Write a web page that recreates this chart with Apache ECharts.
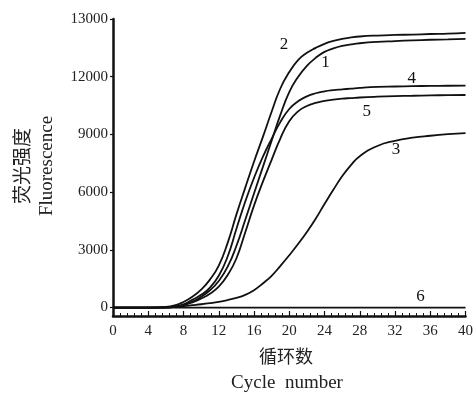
<!DOCTYPE html>
<html>
<head>
<meta charset="utf-8">
<script src="https://cdn.jsdelivr.net/npm/echarts@6/dist/echarts.min.js"></script>
<style>html,body{margin:0;padding:0;background:#fff;}#c{width:476px;height:394px;}</style>
</head>
<body>
<div id="c"></div>
<script>
// ---- data ----
var cycles = [0, 2, 4, 6, 7, 8, 9, 10, 11, 12, 13, 14, 15, 16, 17, 18, 19, 20, 21, 22, 23, 24, 25, 26, 27, 28, 30, 32, 34, 36, 38, 40];
var curve1 = [0, 0, 0, 10, 40, 130, 300, 560, 900, 1380, 2110, 3200, 4550, 5930, 7300, 8670, 10030, 11200, 11990, 12560, 12980, 13290, 13470, 13600, 13680, 13740, 13810, 13850, 13890, 13920, 13940, 13970];
var curve2 = [0, 0, 0, 30, 110, 290, 560, 930, 1450, 2180, 3350, 4830, 6220, 7580, 8860, 10180, 11400, 12240, 12860, 13240, 13500, 13710, 13860, 13970, 14040, 14090, 14140, 14170, 14190, 14220, 14240, 14280];
var curve3 = [0, 0, 0, 10, 30, 70, 120, 170, 230, 300, 390, 500, 660, 900, 1250, 1650, 2170, 2720, 3300, 3930, 4620, 5380, 6120, 6820, 7400, 7870, 8400, 8670, 8830, 8930, 9010, 9070];
var curve4 = [0, 0, 0, 10, 50, 170, 400, 660, 1040, 1650, 2640, 4080, 5500, 6740, 7830, 8770, 9650, 10320, 10720, 10980, 11140, 11240, 11300, 11340, 11380, 11420, 11470, 11490, 11510, 11520, 11530, 11540];
var curve5 = [0, 0, 0, 0, 30, 120, 270, 470, 720, 1090, 1680, 2550, 3900, 5300, 6530, 7680, 8800, 9680, 10200, 10480, 10640, 10740, 10810, 10860, 10890, 10920, 10960, 10990, 11010, 11030, 11040, 11050];
var curve6 = [0, 0, 0, 0, 0, 0, 0, 0, 0, 0, 0, 0, 0, 0, 0, 0, 0, 0, 0, 0, 0, 0, 0, 0, 0, 0, 0, 0, 0, 0, 0, 0];
var curveNames = ['1', '2', '3', '4', '5', '6'];
var curveLabelPos = [[24.1, 12720], [19.4, 13670], [32.1, 8200], [33.9, 11900], [28.8, 10170], [34.9, 560]];
var yTickValues = [0, 3000, 6000, 9000, 12000, 15000];
var yTickLabels = ['0', '3000', '6000', '9000', '12000', '13000'];
var xTickLabels = ['0', '4', '8', '12', '16', '20', '24', '28', '32', '36', '40'];

var allCurves = [curve1, curve2, curve3, curve4, curve5, curve6];
var serif = '"Liberation Serif", "DejaVu Serif", serif';
var cjk = '"Noto Sans CJK SC", sans-serif';

function pairs(vals) { return cycles.map(function (c, i) { return [c, vals[i]]; }); }

var series = allCurves.map(function (vals, k) {
  return {
    type: 'line',
    name: curveNames[k],
    data: pairs(vals),
    smooth: 0.5,
    symbol: 'none',
    lineStyle: { color: '#111', width: 1.8 },
    markPoint: {
      symbol: 'circle', symbolSize: 0,
      label: { show: true, position: 'inside', formatter: curveNames[k], color: '#111', fontFamily: serif, fontSize: 17 },
      data: [{ coord: curveLabelPos[k] }]
    },
    animation: false
  };
});

var chart = echarts.init(document.getElementById('c'));
chart.setOption({
  backgroundColor: '#fff',
  animation: false,
  grid: { left: 113, right: 9, top: 19, bottom: 78 },
  xAxis: {
    type: 'value', min: 0, max: 40, interval: 4,
    axisLine: { onZero: false, lineStyle: { color: '#111', width: 2.5 } },
    axisTick: { inside: true, length: 5, lineStyle: { color: '#111', width: 1.2 } },
    minorTick: { show: true, splitNumber: 5, length: 3, lineStyle: { color: '#111', width: 1 } },
    axisLabel: { color: '#222', fontFamily: serif, fontSize: 15, margin: 8,
      formatter: function (v) { return xTickLabels[Math.round(v / 4)]; } },
    splitLine: { show: false }
  },
  yAxis: {
    type: 'value', min: -440, max: 15000,
    axisLine: { show: true, lineStyle: { color: '#111', width: 2.5 } },
    axisTick: { show: true, inside: false, length: 3, customValues: yTickValues, lineStyle: { color: '#111', width: 1.2 } },
    axisLabel: { color: '#222', fontFamily: serif, fontSize: 15, margin: 5, customValues: yTickValues,
      formatter: function (v) { var i = yTickValues.indexOf(v); return i >= 0 ? yTickLabels[i] : ''; } },
    splitLine: { show: false }
  },
  graphic: [
    { type: 'text', x: 286, y: 356, style: { text: '循环数', font: '18px ' + cjk, fill: '#222', align: 'center', verticalAlign: 'middle' } },
    { type: 'text', x: 287, y: 383, style: { text: 'Cycle  number', font: '19px ' + serif, fill: '#222', align: 'center', verticalAlign: 'middle' } },
    { type: 'text', x: 22, y: 166, rotation: Math.PI / 2, style: { text: '荧光强度', font: '19px ' + cjk, fill: '#222', align: 'center', verticalAlign: 'middle' } },
    { type: 'text', x: 47, y: 166, rotation: Math.PI / 2, style: { text: 'Fluorescence', font: '19px ' + serif, fill: '#222', align: 'center', verticalAlign: 'middle' } }
  ],
  series: series
});
</script>
</body>
</html>
